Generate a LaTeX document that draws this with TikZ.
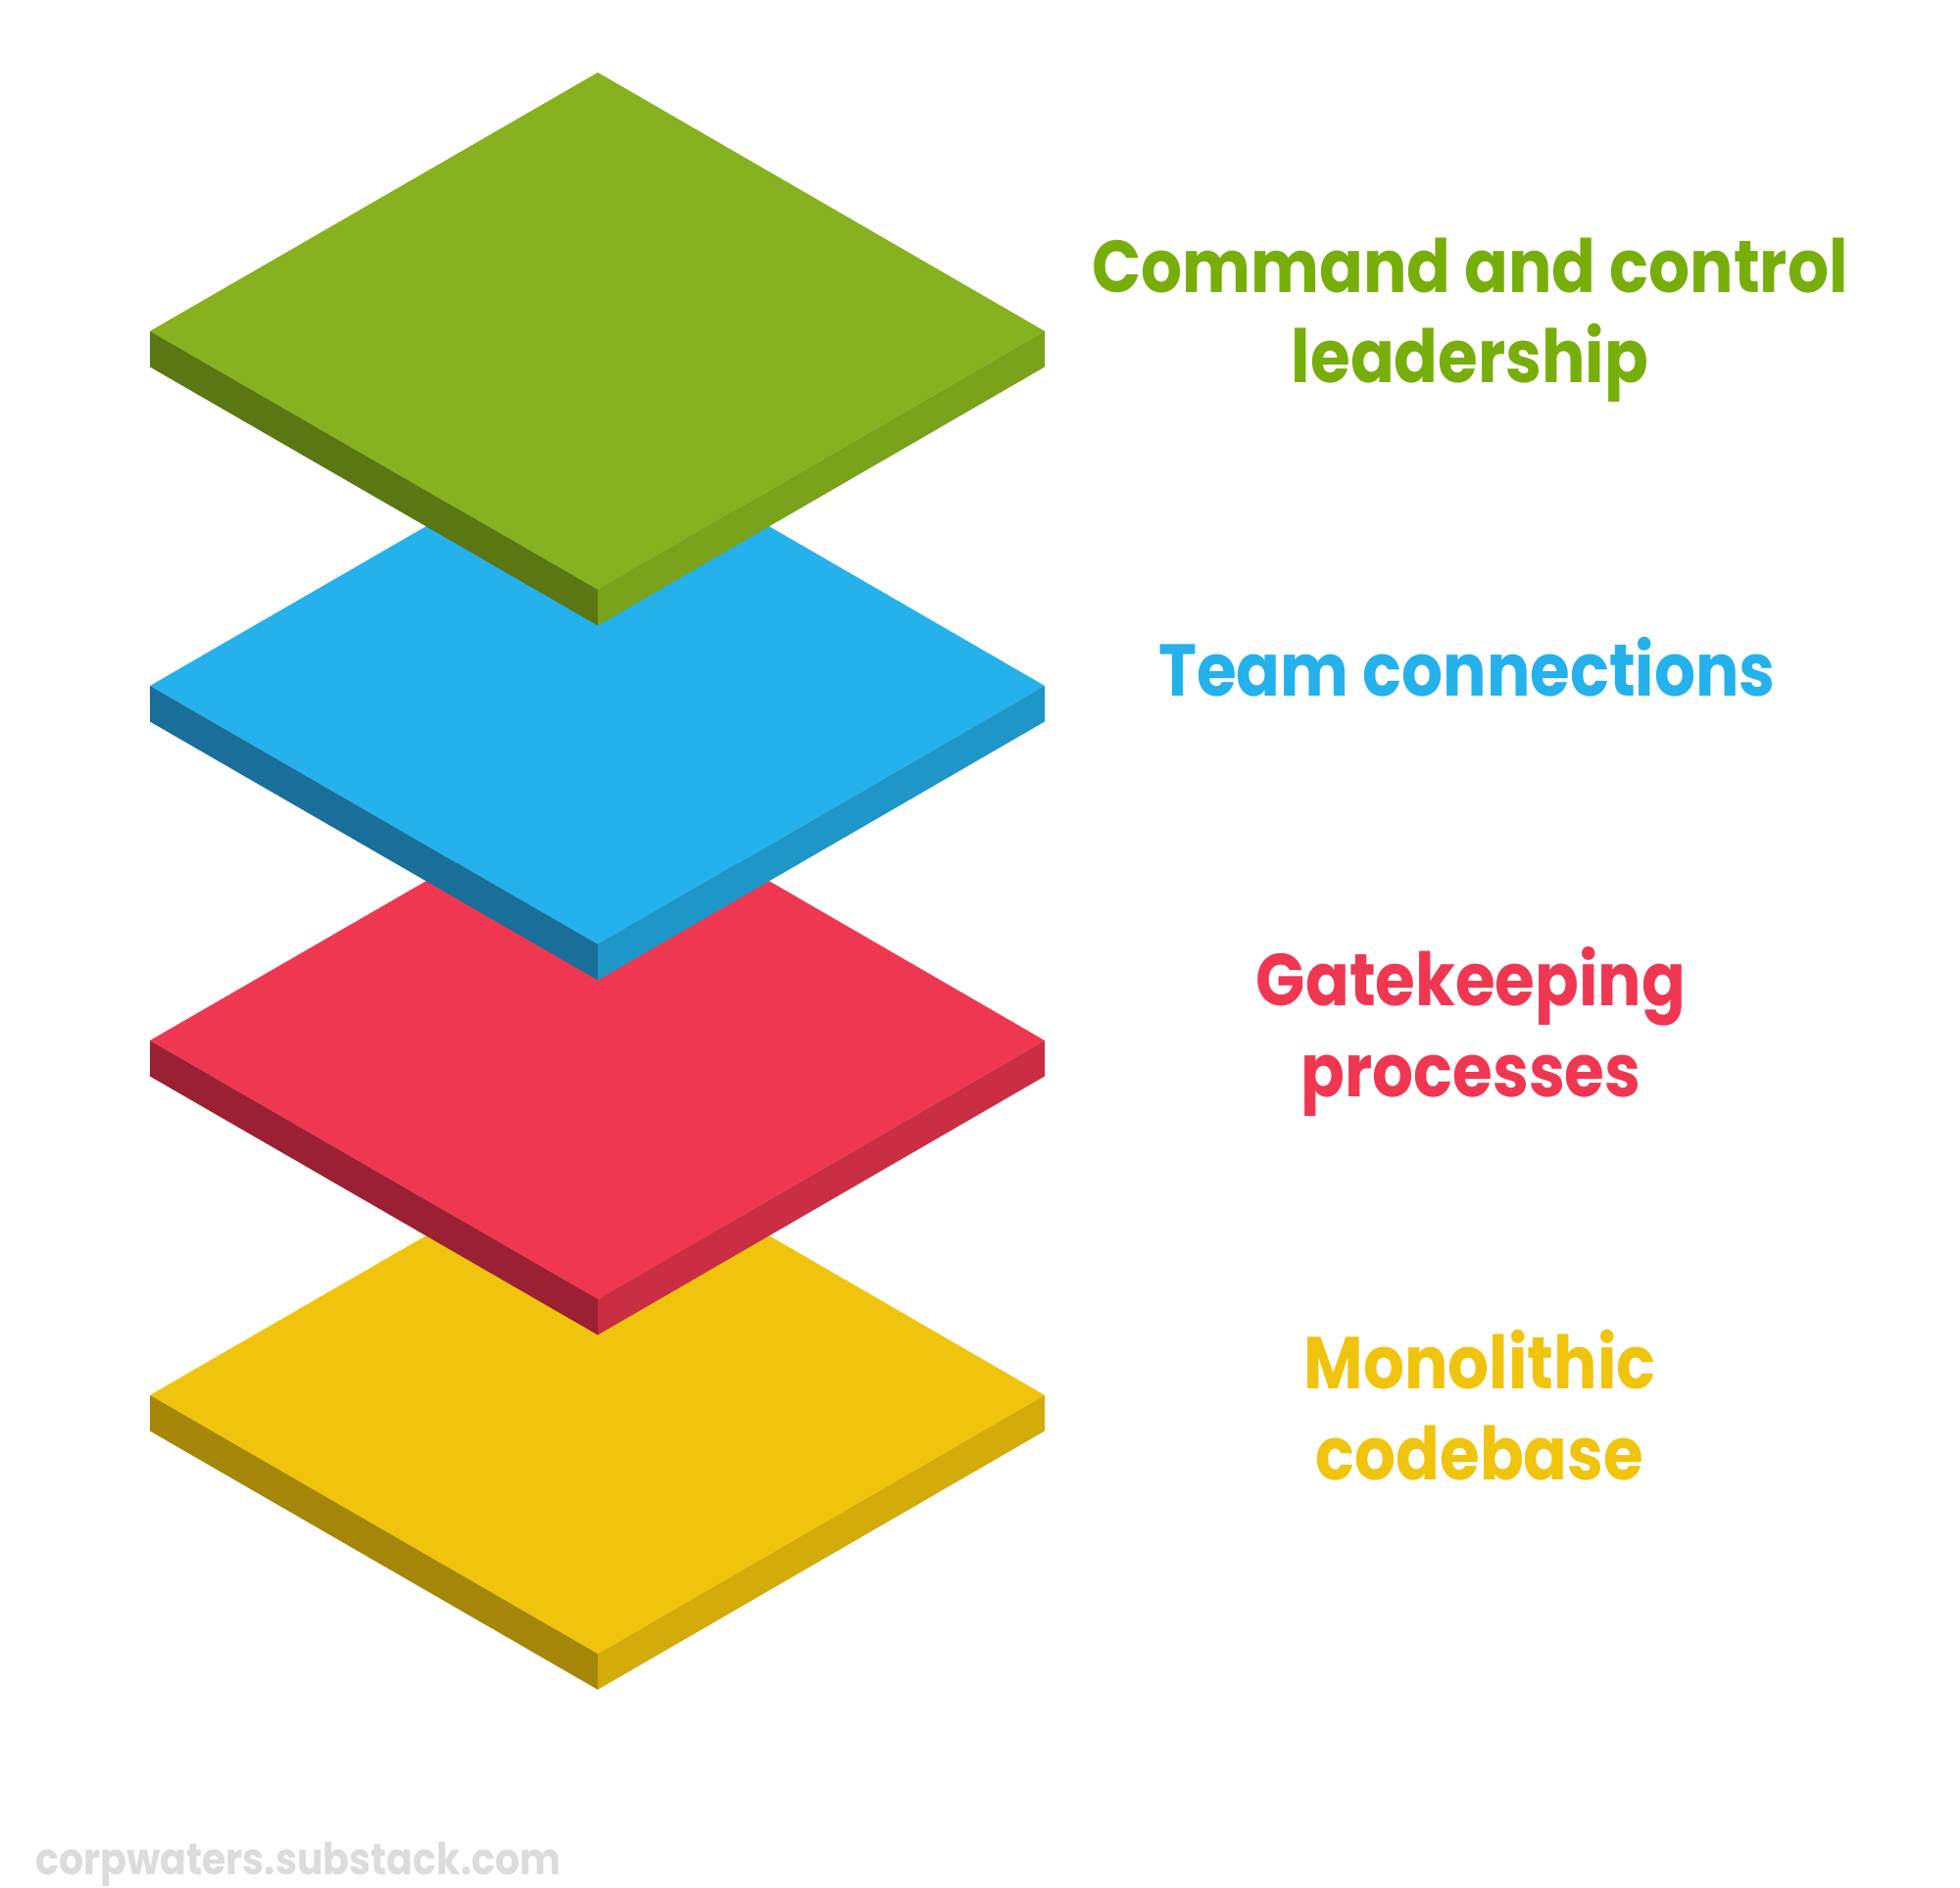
\documentclass[tikz,border=0pt]{standalone}
\usepackage{fontspec}
\setmainfont{Poppins}[UprightFont=* Bold, FakeStretch=0.88]
\definecolor{gTop}{HTML}{87B11F}
\definecolor{gLeft}{HTML}{5A7714}
\definecolor{gRight}{HTML}{7AA21A}
\definecolor{bTop}{HTML}{24B1EC}
\definecolor{bLeft}{HTML}{1A6F9A}
\definecolor{bRight}{HTML}{1E96C8}
\definecolor{rTop}{HTML}{EF3752}
\definecolor{rLeft}{HTML}{9C2033}
\definecolor{rRight}{HTML}{CA2E44}
\definecolor{yTop}{HTML}{F0C40D}
\definecolor{yLeft}{HTML}{A58608}
\definecolor{yRight}{HTML}{D4AC09}
\definecolor{gText}{HTML}{78AE0A}
\definecolor{mark}{HTML}{DCDCDC}
\tikzset{
  lbl/.style={inner sep=0pt, anchor=base, font=\fontsize{75}{92}\selectfont},
  wm/.style={inner sep=0pt, anchor=base west, font=\fontsize{45}{50}\selectfont, text=mark},
}
\newcommand{\slab}[4]{% dy, top, left, right
  \fill[#2] (610,74+#1) -- (1066,338+#1) -- (610,602+#1) -- (153,338+#1) -- cycle;
  \fill[#3] (153,338+#1) -- (610,602+#1) -- (610,638.5+#1) -- (153,374.5+#1) -- cycle;
  \fill[#4] (610,602+#1) -- (1066,338+#1) -- (1066,374.5+#1) -- (610,638.5+#1) -- cycle;
}
\begin{document}
\begin{tikzpicture}[x=1pt,y=-1pt]
\useasboundingbox (0,0) rectangle (2000,1927);
\slab{1086}{yTop}{yLeft}{yRight}
\slab{724}{rTop}{rLeft}{rRight}
\slab{362}{bTop}{bLeft}{bRight}
\slab{0}{gTop}{gLeft}{gRight}
\node[lbl, text=gText] (cmd1) at (1500,298) {Command and control};
\node[lbl, text=gText] (cmd2) at (1500,390) {leadership};
\node[lbl, text=bTop] (team) at (1497,710) {Team connections};
\node[lbl, text=rTop] (gate1) at (1501,1026) {Gatekeeping};
\node[lbl, text=rTop] (gate2) at (1501,1119) {processes};
\node[lbl, text=yTop] (mono1) at (1510,1417) {Monolithic};
\node[lbl, text=yTop] (mono2) at (1510,1510) {codebase};
\node[wm] (url) at (36,1913) {corpwaters.substack.com};
\end{tikzpicture}
\end{document}
